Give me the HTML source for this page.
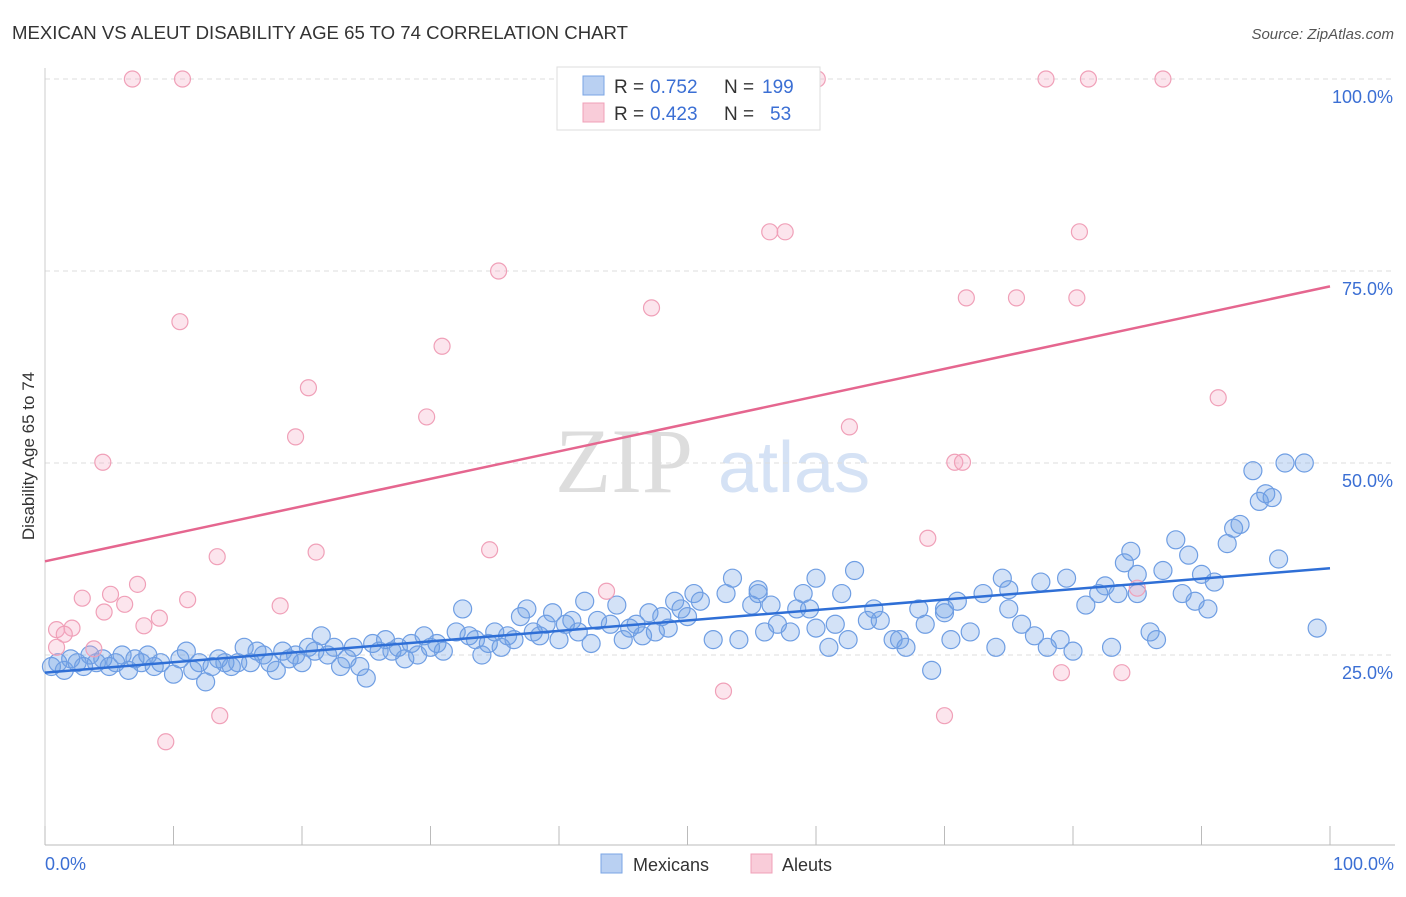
<!DOCTYPE html>
<html><head><meta charset="utf-8"><style>
body{margin:0;background:#fff;font-family:"Liberation Sans",sans-serif}
</style></head><body>
<svg width="1406" height="892" viewBox="0 0 1406 892" xmlns="http://www.w3.org/2000/svg">
<text x="12" y="39" font-size="18" fill="#333" textLength="616" lengthAdjust="spacingAndGlyphs">MEXICAN VS ALEUT DISABILITY AGE 65 TO 74 CORRELATION CHART</text>
<text x="1394" y="39" font-size="15" fill="#555" font-style="italic" text-anchor="end">Source: ZipAtlas.com</text>
<g>
<text x="555" y="492" font-size="92" fill="#ddd" font-family="Liberation Serif,serif">ZIP</text>
<text x="718" y="492" font-size="72" fill="#d5e2f5">atlas</text>
</g>
<g id="grid"></g>
<g id="axes"></g>
<g id="marks"></g>
<text transform="translate(34,456) rotate(-90)" font-size="17" fill="#333" text-anchor="middle">Disability Age 65 to 74</text>
<text x="45" y="870" font-size="18" fill="#3b6fd4">0.0%</text>
<text x="1394" y="870" font-size="18" fill="#3b6fd4" text-anchor="end">100.0%</text>
<g>
<rect x="557" y="67" width="263" height="63" fill="#fff" stroke="#ddd"/>
<rect x="583" y="76" width="21" height="19" fill="#b9d0f2" stroke="#7aa5e4"/>
<rect x="583" y="103" width="21" height="19" fill="#f9ccd9" stroke="#f0a0b8"/>
<text x="614" y="93" font-size="19" fill="#333">R =</text>
<text x="650" y="93" font-size="19" fill="#3b6fd4">0.752</text>
<text x="724" y="93" font-size="19" fill="#333">N =</text>
<text x="762" y="93" font-size="19" fill="#3b6fd4">199</text>
<text x="614" y="120" font-size="19" fill="#333">R =</text>
<text x="650" y="120" font-size="19" fill="#3b6fd4">0.423</text>
<text x="724" y="120" font-size="19" fill="#333">N =</text>
<text x="770" y="120" font-size="19" fill="#3b6fd4">53</text>
</g>
<g>
<rect x="601" y="854" width="21" height="19" fill="#b9d0f2" stroke="#7aa5e4"/>
<text x="633" y="871" font-size="18" fill="#333">Mexicans</text>
<rect x="751" y="854" width="21" height="19" fill="#f9ccd9" stroke="#f0a0b8"/>
<text x="782" y="871" font-size="18" fill="#333">Aleuts</text>
</g>
</svg>
<script>
const yTicks=[25,50,75,100];
const yTickLabels=["25.0%","50.0%","75.0%","100.0%"];
const xTicks=[0,10,20,30,40,50,60,70,80,90,100];
const blueX=[0.5,1,1.5,2,2.5,3,3.5,4,4.5,5,5.5,6,6.5,7,7.5,8,8.5,9,10,10.5,11,11.5,12,12.5,13,13.5,14,14.5,15,15.5,16,16.5,17,17.5,18,18.5,19,19.5,20,20.5,21,21.5,22,22.5,23,23.5,24,24.5,25,25.5,26,26.5,27,27.5,28,28.5,29,29.5,30,30.5,31,32,32.5,33,33.5,34,34.5,35,35.5,36,36.5,37,37.5,38,38.5,39,39.5,40,40.5,41,41.5,42,42.5,43,44,44.5,45,45.5,46,46.5,47,47.5,48,48.5,49,49.5,50,50.5,51,52,53,53.5,54,55,55.5,56,56.5,57,58,58.5,59,59.5,60,61,61.5,62,62.5,63,64,64.5,65,66,66.5,67,68,68.5,69,70,70.5,71,72,73,74,74.5,75,76,77,77.5,78,79,79.5,80,81,82,82.5,83,83.5,84,84.5,85,86,86.5,87,88,88.5,89,89.5,90,90.5,91,92,92.5,93,94,94.5,95,95.5,96,96.5,98,99,70,75,60,55.5,85];
const blueY=[23.5,24,23,24.5,24,23.5,25,24,24.5,23.5,24,25,23,24.5,24,25,23.5,24,22.5,24.5,25.5,23,24,21.5,23.5,24.5,24,23.5,24,26,24,25.5,25,24,23,25.5,24.5,25,24,26,25.5,27.5,25,26,23.5,24.5,26,23.5,22,26.5,25.5,27,25.5,26,24.5,26.5,25,27.5,26,26.5,25.5,28,31,27.5,27,25,26.5,28,26,27.5,27,30,31,28,27.5,29,30.5,27,29,29.5,28,32,26.5,29.5,29,31.5,27,28.5,29,27.5,30.5,28,30,28.5,32,31,30,33,32,27,33,35,27,31.5,33,28,31.5,29,28,31,33,31,35,26,29,33,27,36,29.5,31,29.5,27,27,26,31,29,23,30.5,27,32,28,33,26,35,31,29,27.5,34.5,26,27,35,25.5,31.5,33,34,26,33,37,38.5,35.5,28,27,36,40,33,38,32,35.5,31,34.5,39.5,41.5,42,49,45,46,45.5,37.5,50,50,28.5,31,33.5,28.5,33.5,33];
const pinkX=[6.8,10.7,55.6,60.1,77.9,81.2,87,56.4,57.6,80.5,35.3,10.5,47.2,71.7,75.6,80.3,30.9,20.5,29.7,19.5,62.6,91.3,4.5,70.8,71.4,21.1,13.4,34.6,68.7,2.9,11.1,5.1,7.2,6.2,4.6,8.9,18.3,43.7,0.9,2.1,1.5,7.7,3.8,0.9,52.8,79.1,83.8,13.6,70,9.4,85];
const pinkY=[100,100,100,100,100,100,100,80.1,80.1,80.1,75,68.4,70.2,71.5,71.5,71.5,65.2,59.8,56,53.4,54.7,58.5,50.1,50.1,50.1,38.4,37.8,38.7,40.2,32.4,32.2,32.9,34.2,31.6,30.6,29.8,31.4,33.3,28.3,28.5,27.7,28.8,25.8,26,20.3,22.7,22.7,17.1,17.1,13.7,33.7];
const blueTrend=[22.7,36.3];
const pinkTrend=[37.2,73.0];
const NS="http://www.w3.org/2000/svg";
const X=v=>45+v*12.85;
const Y=v=>847-v*7.68;
function mk(tag,attrs,parent){const e=document.createElementNS(NS,tag);for(const k in attrs)e.setAttribute(k,attrs[k]);document.getElementById(parent).appendChild(e);return e;}
yTicks.forEach((t,i)=>{
 const l=mk('line',{x1:45,x2:1395,y1:Y(t),y2:Y(t),stroke:'#ddd','stroke-dasharray':'5,4'},'grid');
 
 
 const tx=mk('text',{x:1393,y:Y(t)+24,'font-size':18,fill:'#3b6fd4','text-anchor':'end'},'grid');
 tx.textContent=yTickLabels[i];
 
 
});
const ax=mk('line',{x1:45,x2:1395,y1:845,y2:845,stroke:'#bbb'},'axes');


const ay=mk('line',{x1:45,x2:45,y1:68,y2:845,stroke:'#ccc'},'axes');


xTicks.forEach(t=>{
 const l=mk('line',{x1:X(t),x2:X(t),y1:826,y2:845,stroke:'#bbb'},'axes');
 
 
});
blueX.forEach((x,i)=>{
 const c=mk('circle',{cx:X(x),cy:Y(blueY[i]),r:9,fill:'rgba(110,160,230,0.3)',stroke:'#6f9ee3','stroke-width':1.2},'marks');
 
 
});
pinkX.forEach((x,i)=>{
 const c=mk('circle',{cx:X(x),cy:Y(pinkY[i]),r:8,fill:'rgba(245,170,195,0.3)',stroke:'#f0a0b8','stroke-width':1.2},'marks');
 
 
});
const bt=mk('line',{x1:X(0),x2:X(100),y1:Y(blueTrend[0]),y2:Y(blueTrend[1]),stroke:'#2f6fd6','stroke-width':2.5},'marks');


const pt=mk('line',{x1:X(0),x2:X(100),y1:Y(pinkTrend[0]),y2:Y(pinkTrend[1]),stroke:'#e5668f','stroke-width':2.5},'marks');


</script>
</body></html>
